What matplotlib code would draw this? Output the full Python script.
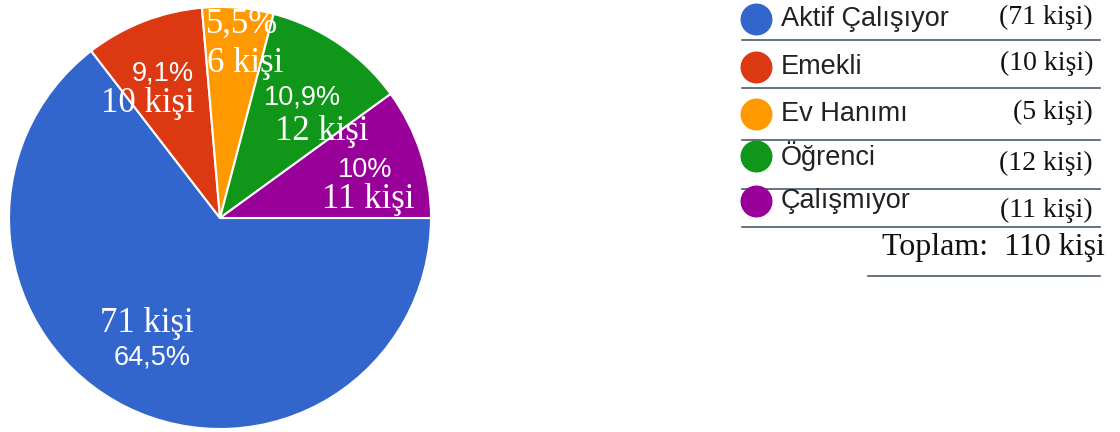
import matplotlib
matplotlib.use("Agg")
from matplotlib import pyplot as plt

# data
categories = ["Aktif Çalışıyor", "Emekli", "Ev Hanımı", "Öğrenci", "Çalışmıyor"]
counts = [71, 10, 6, 12, 11]
legend_counts = [71, 10, 5, 12, 11]
total = 110
colors = ["#3366cc", "#dc3912", "#ff9900", "#109618", "#990099"]

SANS = "Liberation Sans"
SERIF = "Liberation Serif"
H = 432

def Y(y):
    return H - y

def pct_text(c):
    s = "{:.1f}".format(100.0 * c / sum(counts)).rstrip("0").rstrip(".")
    return s.replace(".", ",") + "%"

fig = plt.figure(figsize=(11.2, 4.32), dpi=100)
ax = fig.add_axes([0, 0, 1, 1])

ax.pie(counts, colors=colors, startangle=0, counterclock=False,
       center=(220, Y(218)), radius=211,
       wedgeprops=dict(edgecolor="white", linewidth=1.5))
ax.set_xlim(0, 1120)
ax.set_ylim(0, H)
ax.set_aspect("auto")
ax.axis("off")

# slice labels: percent pos, count pos, percent font
label_pos = [
    ((152, 358), (147, 323), SANS),
    ((163, 73), (148, 104), SANS),
    ((242, 24), (245, 63), SERIF),
    ((302, 97), (322, 131), SANS),
    ((365, 170), (368, 200), SANS),
]
for c, (pp, cp, pf) in zip(counts, label_pos):
    ax.text(pp[0], Y(pp[1]), pct_text(c), family=pf,
            fontsize=19.5 if pf == SANS else 25,
            color="white", ha="center", va="center")
    ax.text(cp[0], Y(cp[1]), "{} kişi".format(c), family=SERIF, fontsize=25,
            color="white", ha="center", va="center")

# legend
row_y = [19, 67, 114, 156, 201]
count_y = [17, 63, 112, 163, 210]
line_y = [40, 88, 140, 189, 227]
for i, name in enumerate(categories):
    ax.plot(756, Y(row_y[i]), "o", ms=22, color=colors[i], mec=colors[i])
    ax.text(781, Y(row_y[i]), name, family=SANS, fontsize=19.5,
            color="#222222", ha="left", va="center")
    ax.text(1093, Y(count_y[i]), "({} kişi)".format(legend_counts[i]),
            family=SERIF, fontsize=20, color="#111111", ha="right", va="center")
    ax.plot([742, 1100], [Y(line_y[i]), Y(line_y[i])], color="#4a5a6a", lw=1.2)

ax.text(1105, Y(247), "Toplam:  {} kişi".format(total), family=SERIF,
        fontsize=23, color="#111111", ha="right", va="center")
ax.plot([868, 1100], [Y(276), Y(276)], color="#4a5a6a", lw=1.2)

fig.savefig("out.png", dpi=100, facecolor="white")
